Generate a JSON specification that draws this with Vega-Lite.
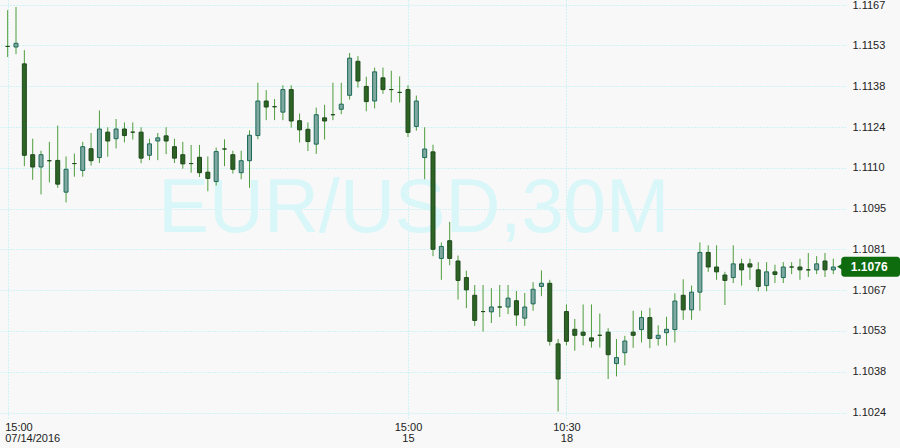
{
  "$schema": "https://vega.github.io/schema/vega-lite/v6.json",
  "autosize": {"type": "none"},
  "padding": {"left": 0, "top": 0, "right": 55, "bottom": 28},
  "width": 845,
  "height": 420,
  "background": "#f8f8f8",
  "config": {
    "view": {"stroke": null},
    "font": "Liberation Sans",
    "axis": {
      "gridColor": "#a9eef3",
      "gridDash": [1, 2],
      "gridWidth": 1,
      "gridOpacity": 1,
      "domain": false,
      "ticks": false,
      "title": null,
      "labelFont": "Liberation Sans",
      "labelFontSize": 11,
      "labelColor": "#222222"
    }
  },
  "datasets": {
    "candles": [
      {"i": 0, "o": 1.11521, "h": 1.11648, "l": 1.11484, "c": 1.11521},
      {"i": 1, "o": 1.11519, "h": 1.11659, "l": 1.11494, "c": 1.11532},
      {"i": 2, "o": 1.11460, "h": 1.11508, "l": 1.11102, "c": 1.11140},
      {"i": 3, "o": 1.11142, "h": 1.11198, "l": 1.11054, "c": 1.11099},
      {"i": 4, "o": 1.11099, "h": 1.11156, "l": 1.11003, "c": 1.11142},
      {"i": 5, "o": 1.11121, "h": 1.11187, "l": 1.11045, "c": 1.11121},
      {"i": 6, "o": 1.11122, "h": 1.11244, "l": 1.11026, "c": 1.11039},
      {"i": 7, "o": 1.11011, "h": 1.11136, "l": 1.10975, "c": 1.11091},
      {"i": 8, "o": 1.11111, "h": 1.11146, "l": 1.11065, "c": 1.11111},
      {"i": 9, "o": 1.11087, "h": 1.11187, "l": 1.11065, "c": 1.11170},
      {"i": 10, "o": 1.11163, "h": 1.11218, "l": 1.11104, "c": 1.11121},
      {"i": 11, "o": 1.11132, "h": 1.11297, "l": 1.11113, "c": 1.11232},
      {"i": 12, "o": 1.11221, "h": 1.11238, "l": 1.11135, "c": 1.11190},
      {"i": 13, "o": 1.11198, "h": 1.11267, "l": 1.11164, "c": 1.11232},
      {"i": 14, "o": 1.11232, "h": 1.11255, "l": 1.11185, "c": 1.11209},
      {"i": 15, "o": 1.11221, "h": 1.11255, "l": 1.11195, "c": 1.11221},
      {"i": 16, "o": 1.11221, "h": 1.11238, "l": 1.11112, "c": 1.11130},
      {"i": 17, "o": 1.11140, "h": 1.11198, "l": 1.11123, "c": 1.11180},
      {"i": 18, "o": 1.11190, "h": 1.11218, "l": 1.11123, "c": 1.11201},
      {"i": 19, "o": 1.11208, "h": 1.11238, "l": 1.11144, "c": 1.11190},
      {"i": 20, "o": 1.11170, "h": 1.11198, "l": 1.11113, "c": 1.11130},
      {"i": 21, "o": 1.11142, "h": 1.11187, "l": 1.11093, "c": 1.11110},
      {"i": 22, "o": 1.11111, "h": 1.11176, "l": 1.11079, "c": 1.11111},
      {"i": 23, "o": 1.11133, "h": 1.11176, "l": 1.11064, "c": 1.11079},
      {"i": 24, "o": 1.11081, "h": 1.11136, "l": 1.11014, "c": 1.11059},
      {"i": 25, "o": 1.11048, "h": 1.11167, "l": 1.11034, "c": 1.11153},
      {"i": 26, "o": 1.11162, "h": 1.11196, "l": 1.11102, "c": 1.11162},
      {"i": 27, "o": 1.11142, "h": 1.11156, "l": 1.11076, "c": 1.11091},
      {"i": 28, "o": 1.11079, "h": 1.11156, "l": 1.11056, "c": 1.11121},
      {"i": 29, "o": 1.11121, "h": 1.11227, "l": 1.11026, "c": 1.11210},
      {"i": 30, "o": 1.11209, "h": 1.11394, "l": 1.11196, "c": 1.11330},
      {"i": 31, "o": 1.11330, "h": 1.11368, "l": 1.11263, "c": 1.11309},
      {"i": 32, "o": 1.11310, "h": 1.11337, "l": 1.11263, "c": 1.11310},
      {"i": 33, "o": 1.11291, "h": 1.11385, "l": 1.11263, "c": 1.11370},
      {"i": 34, "o": 1.11370, "h": 1.11385, "l": 1.11237, "c": 1.11260},
      {"i": 35, "o": 1.11261, "h": 1.11286, "l": 1.11185, "c": 1.11229},
      {"i": 36, "o": 1.11231, "h": 1.11255, "l": 1.11155, "c": 1.11188},
      {"i": 37, "o": 1.11179, "h": 1.11307, "l": 1.11145, "c": 1.11282},
      {"i": 38, "o": 1.11271, "h": 1.11317, "l": 1.11195, "c": 1.11260},
      {"i": 39, "o": 1.11282, "h": 1.11394, "l": 1.11263, "c": 1.11282},
      {"i": 40, "o": 1.11301, "h": 1.11394, "l": 1.11284, "c": 1.11319},
      {"i": 41, "o": 1.11350, "h": 1.11498, "l": 1.11335, "c": 1.11480},
      {"i": 42, "o": 1.11469, "h": 1.11487, "l": 1.11377, "c": 1.11400},
      {"i": 43, "o": 1.11381, "h": 1.11415, "l": 1.11294, "c": 1.11328},
      {"i": 44, "o": 1.11330, "h": 1.11447, "l": 1.11304, "c": 1.11432},
      {"i": 45, "o": 1.11411, "h": 1.11447, "l": 1.11355, "c": 1.11370},
      {"i": 46, "o": 1.11370, "h": 1.11436, "l": 1.11325, "c": 1.11370},
      {"i": 47, "o": 1.11360, "h": 1.11416, "l": 1.11325, "c": 1.11360},
      {"i": 48, "o": 1.11370, "h": 1.11385, "l": 1.11204, "c": 1.11220},
      {"i": 49, "o": 1.11241, "h": 1.11349, "l": 1.11226, "c": 1.11330},
      {"i": 50, "o": 1.11132, "h": 1.11238, "l": 1.11056, "c": 1.11162},
      {"i": 51, "o": 1.11152, "h": 1.11177, "l": 1.10787, "c": 1.10811},
      {"i": 52, "o": 1.10779, "h": 1.10835, "l": 1.10704, "c": 1.10821},
      {"i": 53, "o": 1.10841, "h": 1.10907, "l": 1.10755, "c": 1.10779},
      {"i": 54, "o": 1.10770, "h": 1.10789, "l": 1.10635, "c": 1.10702},
      {"i": 55, "o": 1.10712, "h": 1.10736, "l": 1.10605, "c": 1.10669},
      {"i": 56, "o": 1.10650, "h": 1.10686, "l": 1.10543, "c": 1.10562},
      {"i": 57, "o": 1.10593, "h": 1.10686, "l": 1.10523, "c": 1.10593},
      {"i": 58, "o": 1.10592, "h": 1.10675, "l": 1.10553, "c": 1.10609},
      {"i": 59, "o": 1.10609, "h": 1.10686, "l": 1.10574, "c": 1.10609},
      {"i": 60, "o": 1.10609, "h": 1.10686, "l": 1.10584, "c": 1.10640},
      {"i": 61, "o": 1.10631, "h": 1.10665, "l": 1.10543, "c": 1.10581},
      {"i": 62, "o": 1.10570, "h": 1.10658, "l": 1.10543, "c": 1.10609},
      {"i": 63, "o": 1.10620, "h": 1.10696, "l": 1.10596, "c": 1.10671},
      {"i": 64, "o": 1.10681, "h": 1.10737, "l": 1.10647, "c": 1.10692},
      {"i": 65, "o": 1.10692, "h": 1.10704, "l": 1.10474, "c": 1.10489},
      {"i": 66, "o": 1.10480, "h": 1.10497, "l": 1.10243, "c": 1.10357},
      {"i": 67, "o": 1.10593, "h": 1.10618, "l": 1.10475, "c": 1.10489},
      {"i": 68, "o": 1.10531, "h": 1.10567, "l": 1.10456, "c": 1.10510},
      {"i": 69, "o": 1.10521, "h": 1.10618, "l": 1.10475, "c": 1.10510},
      {"i": 70, "o": 1.10501, "h": 1.10618, "l": 1.10467, "c": 1.10490},
      {"i": 71, "o": 1.10510, "h": 1.10586, "l": 1.10467, "c": 1.10510},
      {"i": 72, "o": 1.10521, "h": 1.10535, "l": 1.10357, "c": 1.10442},
      {"i": 73, "o": 1.10411, "h": 1.10497, "l": 1.10366, "c": 1.10432},
      {"i": 74, "o": 1.10449, "h": 1.10508, "l": 1.10405, "c": 1.10490},
      {"i": 75, "o": 1.10521, "h": 1.10596, "l": 1.10466, "c": 1.10510},
      {"i": 76, "o": 1.10530, "h": 1.10596, "l": 1.10485, "c": 1.10572},
      {"i": 77, "o": 1.10572, "h": 1.10606, "l": 1.10465, "c": 1.10499},
      {"i": 78, "o": 1.10499, "h": 1.10545, "l": 1.10474, "c": 1.10510},
      {"i": 79, "o": 1.10519, "h": 1.10575, "l": 1.10474, "c": 1.10531},
      {"i": 80, "o": 1.10530, "h": 1.10657, "l": 1.10485, "c": 1.10630},
      {"i": 81, "o": 1.10650, "h": 1.10706, "l": 1.10564, "c": 1.10599},
      {"i": 82, "o": 1.10599, "h": 1.10684, "l": 1.10564, "c": 1.10661},
      {"i": 83, "o": 1.10661, "h": 1.10835, "l": 1.10596, "c": 1.10800},
      {"i": 84, "o": 1.10800, "h": 1.10825, "l": 1.10732, "c": 1.10749},
      {"i": 85, "o": 1.10749, "h": 1.10825, "l": 1.10704, "c": 1.10732},
      {"i": 86, "o": 1.10721, "h": 1.10732, "l": 1.10616, "c": 1.10702},
      {"i": 87, "o": 1.10712, "h": 1.10825, "l": 1.10693, "c": 1.10760},
      {"i": 88, "o": 1.10760, "h": 1.10778, "l": 1.10684, "c": 1.10739},
      {"i": 89, "o": 1.10760, "h": 1.10778, "l": 1.10704, "c": 1.10749},
      {"i": 90, "o": 1.10739, "h": 1.10766, "l": 1.10664, "c": 1.10681},
      {"i": 91, "o": 1.10684, "h": 1.10766, "l": 1.10664, "c": 1.10732},
      {"i": 92, "o": 1.10732, "h": 1.10757, "l": 1.10693, "c": 1.10723},
      {"i": 93, "o": 1.10712, "h": 1.10766, "l": 1.10693, "c": 1.10749},
      {"i": 94, "o": 1.10749, "h": 1.10766, "l": 1.10724, "c": 1.10749},
      {"i": 95, "o": 1.10749, "h": 1.10778, "l": 1.10704, "c": 1.10739},
      {"i": 96, "o": 1.10739, "h": 1.10798, "l": 1.10714, "c": 1.10739},
      {"i": 97, "o": 1.10739, "h": 1.10787, "l": 1.10724, "c": 1.10760},
      {"i": 98, "o": 1.10770, "h": 1.10798, "l": 1.10714, "c": 1.10739},
      {"i": 99, "o": 1.10739, "h": 1.10778, "l": 1.10724, "c": 1.10749}
    ],
    "watermark": [{"text": "EUR/USD,30M"}],
    "last": [{"price": 1.1075, "label": "1.1076"}]
  },
  "layer": [
    {
      "data": {"name": "watermark"},
      "mark": {"type": "text", "font": "Liberation Sans", "fontSize": 76, "color": "#d9f6f8", "align": "center", "baseline": "middle"},
      "encoding": {
        "x": {"datum": 48.7, "type": "quantitative", "scale": {"domain": [-0.32, 99.8], "nice": false, "zero": false}, "axis": {"values": [0, 48, 67], "grid": true, "labelPadding": 1, "labelLineHeight": 11, "labelFlush": false, "labelExpr": "datum.value == 0 ? ['15:00','07/14/2016'] : datum.value == 48 ? ['15:00','15'] : ['10:30','18']", "labelAlign": {"condition": {"test": "datum.value == 0", "value": "left"}, "value": "center"}, "labelOffset": {"condition": {"test": "datum.value == 0", "value": -3}, "value": 0}}},
        "y": {"datum": 1.10953, "type": "quantitative", "scale": {"domain": [1.10231, 1.11666], "nice": false, "zero": false}, "axis": {"orient": "right", "values": [1.10239, 1.10382, 1.10526, 1.10668, 1.10811, 1.10953, 1.11096, 1.11239, 1.11382, 1.11526, 1.116651], "format": ".4f", "grid": true, "labelFlush": false, "labelBound": false, "labelOverlap": false, "labelPadding": 7, "labelAlign": "left", "labelBaseline": "middle"}},
        "text": {"field": "text"}
      }
    },
    {
      "data": {"name": "candles"},
      "mark": {"type": "rule", "color": "#4f9d3d", "strokeWidth": 1},
      "encoding": {
        "x": {"field": "i", "type": "quantitative", "scale": {"domain": [-0.32, 99.8], "nice": false, "zero": false}},
        "y": {"field": "l", "type": "quantitative", "scale": {"domain": [1.10231, 1.11666], "nice": false, "zero": false}},
        "y2": {"field": "h"}
      }
    },
    {
      "data": {"name": "candles"},
      "mark": {"type": "bar", "size": 4, "strokeWidth": 1},
      "encoding": {
        "x": {"field": "i", "type": "quantitative", "scale": {"domain": [-0.32, 99.8], "nice": false, "zero": false}},
        "y": {"field": "o", "type": "quantitative", "scale": {"domain": [1.10231, 1.11666], "nice": false, "zero": false}},
        "y2": {"field": "c"},
        "fill": {"condition": {"test": "datum.c > datum.o", "value": "#7fa8a0"}, "value": "#2d6324"},
        "stroke": {"condition": {"test": "datum.c > datum.o", "value": "#1d6a59"}, "value": "#1f4a1c"}
      }
    },
    {
      "data": {"name": "last"},
      "mark": {"type": "bar", "size": 20, "color": "#0e6b0e", "cornerRadius": 3},
      "encoding": {
        "x": {"datum": 99.95, "type": "quantitative", "scale": {"domain": [-0.32, 99.8], "nice": false, "zero": false}},
        "x2": {"datum": 107},
        "y": {"field": "price", "type": "quantitative", "scale": {"domain": [1.10231, 1.11666], "nice": false, "zero": false}}
      }
    },
    {
      "data": {"name": "last"},
      "mark": {"type": "point", "shape": "triangle-left", "filled": true, "size": 60, "color": "#0e6b0e", "opacity": 1},
      "encoding": {
        "x": {"datum": 99.85, "type": "quantitative", "scale": {"domain": [-0.32, 99.8], "nice": false, "zero": false}},
        "y": {"field": "price", "type": "quantitative", "scale": {"domain": [1.10231, 1.11666], "nice": false, "zero": false}}
      }
    },
    {
      "data": {"name": "last"},
      "mark": {"type": "text", "font": "Liberation Sans", "fontSize": 12, "fontWeight": "bold", "color": "#ffffff", "align": "center", "baseline": "middle"},
      "encoding": {
        "x": {"datum": 103.3, "type": "quantitative", "scale": {"domain": [-0.32, 99.8], "nice": false, "zero": false}},
        "y": {"field": "price", "type": "quantitative", "scale": {"domain": [1.10231, 1.11666], "nice": false, "zero": false}},
        "text": {"field": "label"}
      }
    }
  ]
}
